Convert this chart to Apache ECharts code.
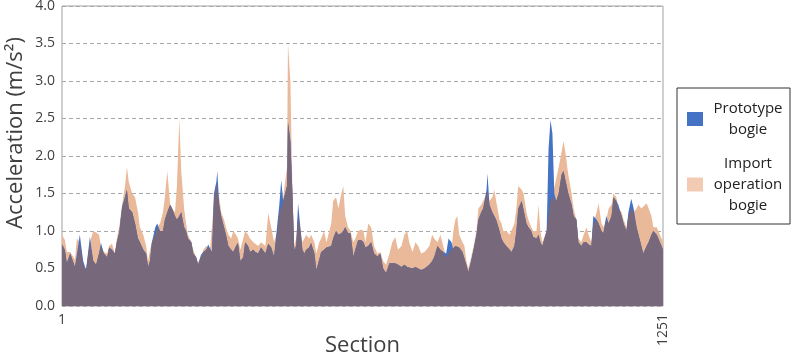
<!DOCTYPE html>
<html><head><meta charset="utf-8">
<script src="https://cdn.jsdelivr.net/npm/echarts@6/dist/echarts.min.js"></script>
<style>html,body{margin:0;padding:0;background:#fff}#c{width:800px;height:353px}</style>
</head><body><div id="c"></div>
<script>
// Section numbers (x) at which values were read
const sections = [1,7,11,18,22,28,32,38,45,51,55,59,66,72,78,82,88,95,99,105,111,115,120,126,132,136,140,147,153,159,163,170,176,180,184,188,195,199,205,211,215,220,226,230,236,240,245,249,255,259,263,270,274,280,284,290,295,301,305,309,313,317,322,324,328,332,338,342,347,353,357,363,367,372,378,382,388,392,399,403,409,415,419,424,430,436,442,449,453,457,461,465,469,471,476,480,484,488,492,496,501,505,509,515,519,526,530,536,540,546,551,555,561,565,571,576,582,586,590,596,601,607,611,617,623,628,632,638,644,650,657,663,669,675,682,688,694,700,707,713,719,723,730,736,742,748,755,759,765,771,775,782,788,794,800,805,811,815,819,823,827,834,838,842,846,852,857,863,867,873,877,884,886,890,896,900,904,911,915,919,925,932,936,942,946,950,957,961,967,971,977,981,988,992,996,1000,1004,1009,1013,1017,1021,1025,1029,1034,1040,1044,1048,1054,1061,1065,1071,1075,1081,1086,1092,1096,1102,1106,1113,1117,1123,1127,1133,1138,1144,1148,1154,1158,1165,1169,1175,1179,1185,1190,1196,1200,1206,1210,1217,1221,1227,1231,1238,1242,1248,1251];
// Import operation bogie (m/s²)
const importBogie = [.95,.88,.72,.72,.70,.62,.90,.85,.55,.48,.55,.85,1.0,.98,.95,.80,.72,.70,.80,.83,.70,.90,1.05,1.35,1.60,1.85,1.65,1.50,1.45,1.25,1.05,.95,.80,.60,.75,.85,.95,1.05,1.10,1.25,1.45,1.80,1.35,1.30,1.25,1.60,2.50,1.80,1.30,1.10,.95,.85,.75,.65,.58,.65,.75,.80,.78,.75,.75,1.40,1.65,1.55,1.45,1.25,1.15,1.05,.95,.90,1.00,.95,.90,.75,.90,1.00,.95,.90,.85,.85,.80,.85,.85,.80,1.24,1.05,.85,1.00,1.25,1.30,1.45,1.65,1.85,3.50,3.00,1.60,.80,.90,1.20,1.05,.85,.90,.95,.90,.95,.85,.70,.85,.90,1.00,.85,.95,1.10,1.40,1.45,1.30,1.50,1.60,1.20,1.05,1.00,.85,.90,1.00,1.02,1.00,.85,1.10,1.05,.80,.70,.72,.60,.55,.70,.85,.92,.75,.80,.95,1.00,.85,.72,.85,.80,.70,.72,.75,.80,.95,.90,.85,.95,.80,.65,.70,.75,1.00,1.15,1.20,.95,.85,.80,.60,.50,.65,.80,1.00,1.30,1.35,1.40,1.50,1.55,1.40,1.45,1.55,1.40,1.15,1.10,1.00,1.00,.95,.95,1.10,1.30,1.60,1.55,1.50,1.25,1.15,1.05,1.00,1.00,1.35,1.00,.85,.85,1.00,1.20,1.40,1.45,1.45,1.70,1.85,2.05,2.20,2.05,1.75,1.50,1.30,1.15,.90,.85,.95,1.05,.95,.85,1.10,1.25,1.37,1.10,1.05,1.15,1.30,1.35,1.50,1.45,1.30,1.25,1.15,1.05,1.20,1.30,1.25,1.30,1.35,1.30,1.30,1.37,1.35,1.20,1.05,1.05,1.05,.90,.85];
// Prototype bogie (m/s²)
const prototypeBogie = [.82,.75,.57,.70,.68,.52,.52,.95,.60,.48,.50,.92,.60,.55,.70,.84,.70,.65,.78,.75,.70,.85,.98,1.32,1.45,1.55,1.30,1.25,1.10,.90,.85,.75,.70,.52,.60,.85,1.05,1.10,1.00,1.00,1.15,1.25,1.35,1.30,1.20,1.15,1.20,1.25,1.05,1.00,.90,.85,.70,.65,.55,.68,.72,.75,.82,.84,.72,1.50,1.65,1.80,1.35,1.20,1.05,.95,.80,.75,.72,.80,.84,.60,.65,.85,.80,.72,.75,.72,.70,.78,.80,.70,.83,.78,.66,1.10,1.35,1.68,1.40,1.50,1.60,2.45,2.20,1.55,.75,.80,1.37,1.10,.75,.70,.75,.78,.84,.70,.48,.62,.72,.75,.78,.80,.80,.90,1.00,.95,.97,1.00,1.05,.97,.97,.66,.75,.88,.88,.85,.78,.80,.85,.70,.66,.70,.50,.44,.57,.57,.57,.55,.52,.55,.52,.50,.50,.52,.50,.48,.50,.52,.55,.60,.65,.80,.75,.72,.70,.90,.85,.75,.80,.80,.78,.72,.70,.55,.45,.60,.75,.95,1.15,1.25,1.30,1.55,1.77,1.35,1.25,1.20,1.15,1.00,.90,.85,.80,.75,.72,.80,1.00,1.30,1.40,1.42,1.10,1.05,1.00,.92,.90,.95,.85,.80,.82,1.00,2.10,2.48,2.30,1.50,1.40,1.50,1.75,1.80,1.80,1.50,1.35,1.20,1.15,.85,.80,.85,.85,.82,.80,1.20,1.15,1.10,1.00,.97,1.20,1.10,1.20,1.45,1.40,1.35,1.20,1.10,1.00,1.25,1.43,1.30,1.05,.95,.80,.70,.80,.85,.95,1.00,.95,.97,.80,.75];
const xTickLabels = [1, 1251];
const yMin = 0, yMax = 4, yStep = 0.5;
const seriesNames = ['Prototype\nbogie', 'Import\noperation\nbogie'];
const yTitle = 'Acceleration (m/s²)';
const xTitle = 'Section';

const protoData = sections.map((s, i) => [s, prototypeBogie[i]]);
const importData = sections.map((s, i) => [s, importBogie[i]]);
const overlapData = sections.map((s, i) => [s, Math.min(prototypeBogie[i], importBogie[i])]);

const font = "'Open Sans', 'Noto Sans', 'DejaVu Sans', sans-serif";
const chart = echarts.init(document.getElementById('c'), null, {renderer: 'canvas'});
const areaSeries = (name, data, color) => ({
  name, type: 'line', data, xAxisIndex: 0, showSymbol: false, symbol: 'none',
  lineStyle: {width: 0}, itemStyle: {color},
  areaStyle: {color, opacity: 1}, silent: true
});
chart.setOption({
  animation: false,
  textStyle: {fontFamily: font},
  grid: {left: 62, top: 6, width: 601, height: 300, show: true, borderColor: '#a0a0a0', borderWidth: 1,
         backgroundColor: '#fff', containLabel: false, outerBoundsMode: 'none'},
  legend: {
    orient: 'vertical', left: 677, top: 88, padding: [10, 2, 8, 10], itemGap: 13,
    itemWidth: 16, itemHeight: 14, icon: 'rect', borderColor: '#333', borderWidth: 1, backgroundColor: '#fff',
    data: [{name: seriesNames[0], itemStyle: {color: '#4472c4'}},
           {name: seriesNames[1], itemStyle: {color: '#f2cbb2'}}],
    formatter: name => name.split('\n').map(l => '{c|' + l + '}').join('\n'),
    textStyle: {fontSize: 15, color: '#222', lineHeight: 21,
      rich: {c: {width: 80, align: 'center', fontSize: 15, lineHeight: 21, color: '#222', fontFamily: font}}}
  },
  graphic: [{
    type: 'text', x: 16, y: 133, rotation: Math.PI / 2, silent: true,
    style: {text: yTitle, fontSize: 22, fontFamily: font, fill: '#404040', align: 'center', verticalAlign: 'middle'}
  }],
  xAxis: [
    {type: 'value', min: xTickLabels[0], max: xTickLabels[1], position: 'bottom',
     axisLine: {show: false}, axisTick: {show: false}, splitLine: {show: false},
     axisLabel: {customValues: [xTickLabels[0]], formatter: v => String(v), fontSize: 14, color: '#404040', margin: 7},
     name: xTitle, nameLocation: 'middle', nameGap: 29,
     nameTextStyle: {fontSize: 22, color: '#404040'}},
    {type: 'value', min: xTickLabels[0], max: xTickLabels[1], position: 'bottom', gridIndex: 0,
     axisLine: {show: false}, axisTick: {show: false}, splitLine: {show: false},
     axisLabel: {customValues: [xTickLabels[1]], formatter: v => String(v), rotate: 90, fontSize: 14, color: '#404040', margin: 8}}
  ],
  yAxis: {
    type: 'value', min: yMin, max: yMax, interval: yStep,
    axisLine: {show: false}, axisTick: {show: false},
    axisLabel: {formatter: v => v.toFixed(1), fontSize: 14, color: '#404040', margin: 7},
    splitLine: {lineStyle: {type: [4, 3], color: '#a8a8a8', width: 1}}
  },
  series: [
    areaSeries(seriesNames[1], importData, '#e9b999'),
    areaSeries(seriesNames[0], protoData, '#4472c4'),
    areaSeries('overlap', overlapData, '#78687c')
  ]
});
</script></body></html>
